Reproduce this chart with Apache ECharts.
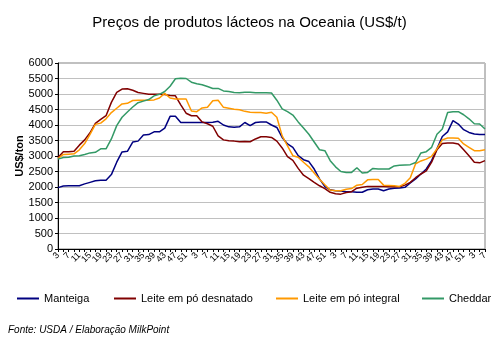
<!DOCTYPE html>
<html><head><meta charset="utf-8">
<script src="https://cdn.jsdelivr.net/npm/echarts@6/dist/echarts.min.js"></script>
<style>html,body{margin:0;padding:0;background:#fff}#c{width:499px;height:346px}</style>
</head><body><div id="c"></div>
<script>
const weeks = [3,5,7,9,11,13,15,17,19,21,23,25,27,29,31,33,35,37,39,41,43,45,47,49,51,
  1,3,5,7,9,11,13,15,17,19,21,23,25,27,29,31,33,35,37,39,41,43,45,47,49,51,
  1,3,5,7,9,11,13,15,17,19,21,23,25,27,29,31,33,35,37,39,41,43,45,47,49,51,
  1,3,5,7];
const categories = weeks.map(String);
const manteiga = [1980,2030,2040,2040,2040,2100,2150,2200,2220,2220,2400,2800,3130,3150,3450,3480,3680,3690,3780,3780,
  3900,4280,4280,4080,4080,4080,4080,4080,4080,4090,4120,4000,3940,3930,3940,4080,3980,4080,4100,4100,
  4000,3920,3600,3390,3280,3010,2880,2820,2580,2260,2010,1910,1880,1870,1850,1850,1830,1830,1910,1935,
  1935,1880,1935,1960,1970,1990,2130,2260,2420,2580,2850,3230,3630,3780,4140,4030,3850,3760,3710,3690,3690];
const desnatado = [2950,3140,3140,3150,3350,3520,3750,4050,4180,4300,4730,5050,5160,5170,5120,5050,5020,4990,4990,4990,
  4980,4950,4940,4650,4380,4300,4300,4100,4040,3960,3650,3520,3490,3480,3460,3470,3460,3550,3620,3620,
  3600,3480,3260,2980,2860,2600,2380,2270,2150,2040,1950,1830,1780,1770,1820,1850,1960,1990,2020,2020,
  2020,2020,2010,2010,2010,2060,2150,2300,2420,2520,2800,3200,3400,3420,3420,3390,3200,3010,2800,2780,2850];
const integral = [2920,3050,3060,3070,3200,3400,3700,4020,4060,4200,4400,4540,4680,4700,4790,4800,4800,4800,4810,4870,
  5020,4870,4840,4840,4840,4450,4430,4550,4570,4780,4800,4570,4540,4510,4490,4440,4410,4400,4400,4380,
  4410,4250,3650,3330,3010,2960,2800,2650,2450,2250,2070,1900,1880,1880,1930,1950,2060,2080,2230,2240,
  2240,2060,2050,2040,2020,2120,2300,2750,2840,2900,2990,3230,3520,3580,3580,3570,3390,3280,3170,3170,3200];
const cheddar = [2900,2950,2960,3000,3010,3050,3100,3120,3230,3230,3550,3980,4250,4420,4580,4720,4770,4820,4940,4990,
  5080,5250,5490,5510,5500,5380,5330,5300,5240,5180,5180,5100,5080,5050,5040,5060,5060,5040,5040,5040,
  5030,4800,4520,4430,4320,4100,3900,3700,3450,3200,3170,2850,2650,2500,2470,2470,2620,2450,2470,2600,
  2580,2580,2580,2680,2700,2710,2720,2790,3100,3140,3280,3700,3870,4400,4430,4430,4330,4200,4040,4030,3870];
const seriesNames = ['Manteiga','Leite em pó desnatado','Leite em pó integral','Cheddar'];
const seriesData = [manteiga, desnatado, integral, cheddar];
const colors = ['#000080','#800000','#FF9900','#339966'];
const legendLeft = [17,114,276,422];

const font = '"Liberation Sans", Arial, sans-serif';
const chart = echarts.init(document.getElementById('c'), null, {renderer:'canvas'});
chart.setOption({
  animation:false,
  backgroundColor:'#fff',
  title:{text:'Preços de produtos lácteos na Oceania (US$/t)', left:'center', top:10,
    textStyle:{fontFamily:font, fontSize:15, fontWeight:'normal', color:'#000'}},
  grid:{left:58, right:14, top:63, bottom:97, show:true, borderColor:'#808080', borderWidth:1},
  legend: seriesNames.map((n,i)=>({data:[n], left:legendLeft[i], top:293, padding:0, itemWidth:22, itemHeight:2, itemGap:0,
    icon:'rect', textStyle:{fontFamily:font, fontSize:11, color:'#000'}})),
  graphic:[
    {type:'text', left:8, top:325, style:{text:'Fonte: USDA / Elaboração MilkPoint',
      font:'italic 10px '+font, fill:'#000'}},
    {type:'text', x:20, y:156, rotation:Math.PI/2, style:{text:'US$/ton', font:'bold 11px '+font,
      fill:'#000', align:'center', verticalAlign:'middle'}}
  ],
  xAxis:{type:'category', data:categories, boundaryGap:false,
    axisLine:{lineStyle:{color:'#000'}},
    axisTick:{interval:0, length:3, lineStyle:{color:'#000'}},
    axisLabel:{interval:1, rotate:45, fontFamily:font, fontSize:9, color:'#000', margin:5},
    splitLine:{show:false}},
  yAxis:{type:'value', min:0, max:6000, interval:500,
    axisLine:{show:true, lineStyle:{color:'#000'}},
    axisTick:{show:true, length:3, lineStyle:{color:'#000'}},
    axisLabel:{fontFamily:font, fontSize:11, color:'#000', margin:5, formatter:v=>String(v)},
    splitLine:{lineStyle:{color:'#c0c0c0'}}},
  series: seriesNames.map((n,i)=>({name:n, type:'line', data:seriesData[i], showSymbol:false,
    symbol:'none', lineStyle:{width:1.5, color:colors[i]}, itemStyle:{color:colors[i]}}))
});
</script></body></html>
